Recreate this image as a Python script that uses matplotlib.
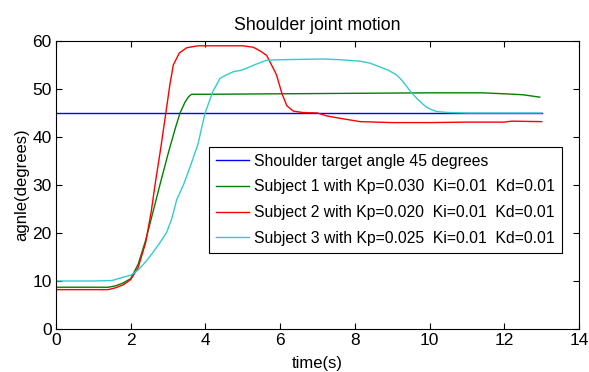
import matplotlib
matplotlib.use("Agg")
import matplotlib.pyplot as plt

plt.rcParams['font.family'] = ['Liberation Sans', 'DejaVu Sans']

title = "Shoulder joint motion"
xlabel = "time(s)"
ylabel = "agnle(degrees)"
labels = [
    "Shoulder target angle 45 degrees",
    "Subject 1 with Kp=0.030  Ki=0.01  Kd=0.01",
    "Subject 2 with Kp=0.020  Ki=0.01  Kd=0.01",
    "Subject 3 with Kp=0.025  Ki=0.01  Kd=0.01",
]

target_t = [0, 13]
target_y = [45, 45]

s1_t = [0, 1.4, 1.6, 1.8, 2.0, 2.2, 2.4, 2.6, 2.78, 3.0, 3.2, 3.32, 3.45, 3.55, 3.63, 4.0, 6.0, 8.0, 10.0, 11.4, 12.0, 12.5, 12.95]
s1_y = [8.7, 8.7, 9.0, 9.6, 10.5, 13.5, 18.5, 24.5, 30.0, 36.5, 42.0, 45.0, 47.2, 48.4, 48.9, 48.9, 49.0, 49.1, 49.2, 49.2, 49.0, 48.8, 48.3]

s2_t = [0, 1.4, 1.6, 1.8, 2.0, 2.2, 2.4, 2.55, 2.65, 2.8, 2.94, 3.05, 3.14, 3.3, 3.5, 3.8, 4.5, 5.0, 5.28, 5.45, 5.64, 5.9, 6.05, 6.18, 6.35, 6.6, 7.0, 7.24, 7.6, 8.14, 9.0, 10.0, 11.0, 12.0, 12.2, 13.0]
s2_y = [8.2, 8.2, 8.6, 9.2, 10.3, 12.8, 18.0, 24.5, 30.0, 37.5, 45.0, 51.0, 55.0, 57.5, 58.6, 59.0, 59.0, 59.0, 58.7, 58.0, 57.0, 53.0, 49.0, 46.5, 45.4, 45.1, 45.0, 44.4, 43.9, 43.2, 43.0, 43.0, 43.1, 43.1, 43.3, 43.2]

s3_t = [0, 1.0, 1.5, 1.8, 2.0, 2.2, 2.4, 2.6, 2.8, 2.96, 3.1, 3.23, 3.41, 3.6, 3.8, 3.99, 4.2, 4.39, 4.55, 4.75, 4.95, 5.1, 5.3, 5.64, 6.0, 7.15, 7.6, 8.14, 8.4, 8.67, 8.9, 9.12, 9.25, 9.39, 9.52, 9.65, 9.8, 9.92, 10.05, 10.19, 10.5, 11.0, 12.0, 13.0]
s3_y = [10.0, 10.0, 10.1, 10.8, 11.2, 12.3, 14.0, 16.0, 18.2, 20.1, 23.0, 26.9, 30.0, 34.0, 38.5, 45.0, 49.5, 52.2, 52.9, 53.6, 53.9, 54.3, 55.0, 56.0, 56.1, 56.25, 56.1, 55.8, 55.4, 54.6, 53.9, 52.9, 51.9, 50.5, 49.2, 48.1, 47.0, 46.2, 45.7, 45.3, 45.1, 45.0, 45.0, 45.0]

colors = ['#0000ff', '#008000', '#ff0000', '#33cccc']

fig = plt.figure(figsize=(5.89, 3.72), dpi=100)
ax = fig.add_axes([0.0951, 0.1156, 0.8879, 0.7742])

series = [(target_t, target_y), (s1_t, s1_y), (s2_t, s2_y), (s3_t, s3_y)]
for (t, y), c, lab in zip(series, colors, labels):
    ax.plot(t, y, color=c, lw=1.0, label=lab)

ax.set_xlim(0, 14)
ax.set_ylim(0, 60)
ax.set_xticks(range(0, 15, 2))
ax.set_yticks(range(0, 61, 10))
ax.tick_params(direction='in', top=True, right=True, labelsize=12.5, length=4, width=0.8, pad=3)
for s in ax.spines.values():
    s.set_linewidth(0.8)

ax.set_title(title, fontsize=12.8, pad=8)
ax.set_xlabel(xlabel, fontsize=12, labelpad=5.5)
ax.set_ylabel(ylabel, fontsize=12, labelpad=2)

leg = ax.legend(loc='upper left', bbox_to_anchor=(0.2925, 0.633), borderaxespad=0,
                fancybox=False, edgecolor='black', framealpha=1, fontsize=11.3,
                handlelength=2.1, handletextpad=0.3, labelspacing=0.68,
                borderpad=0.45)
leg.get_frame().set_linewidth(0.8)

fig.savefig("out.png", dpi=100)
